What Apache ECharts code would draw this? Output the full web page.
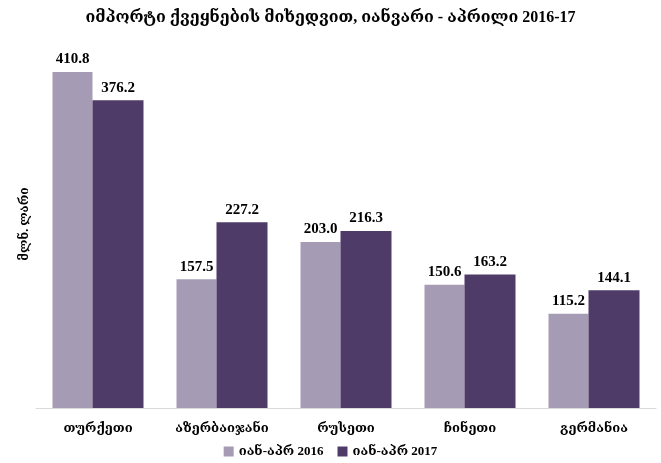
<!DOCTYPE html>
<html><head><meta charset="utf-8">
<script src="https://cdn.jsdelivr.net/npm/echarts@6/dist/echarts.min.js"></script>
<style>html,body{margin:0;padding:0;background:#fff}#c{width:661px;height:463px}</style>
</head><body><div id="c"></div>
<script>
const titleText = 'იმპორტი ქვეყნების მიხედვით, იანვარი - აპრილი 2016-17';
const yAxisName = 'მლნ. ლარი';
const categories = ['თურქეთი', 'აზერბაიჯანი', 'რუსეთი', 'ჩინეთი', 'გერმანია'];
const seriesNames = ['იან-აპრ 2016', 'იან-აპრ 2017'];
const values2016 = [410.8, 157.5, 203.0, 150.6, 115.2];
const values2017 = [376.2, 227.2, 216.3, 163.2, 144.1];
const colors = ['#A69BB4', '#4E3B68'];
const font = '"Liberation Serif", "DejaVu Serif", serif';

const chart = echarts.init(document.getElementById('c'), null, {renderer: 'canvas'});
const label = {show: true, position: 'top', distance: 5, fontFamily: font, fontWeight: 'bold', fontSize: 15, color: '#000', formatter: p => p.value.toFixed(1)};
chart.setOption({
  animation: false,
  title: {text: titleText, left: 'center', top: 5, textStyle: {fontFamily: font, fontWeight: 'bold', fontSize: 16, color: '#000'}},
  legend: {bottom: 0, left: 'center', itemWidth: 10, itemHeight: 10, itemGap: 14, icon: 'rect',
    textStyle: {fontFamily: font, fontWeight: 'bold', fontSize: 13, color: '#000'}},
  grid: {left: 36, right: 5, top: 40, bottom: 55, containLabel: false},
  xAxis: {type: 'category', data: categories, axisTick: {show: false},
    axisLine: {lineStyle: {color: '#D9D9D9', width: 1}},
    axisLabel: {fontFamily: font, fontWeight: 'bold', fontSize: 13, color: '#000', margin: 14}},
  yAxis: {type: 'value', min: 0, max: 450, show: true, name: yAxisName, nameLocation: 'middle', nameGap: 5, nameRotate: 90,
    nameTextStyle: {fontFamily: font, fontWeight: 'bold', fontSize: 12, color: '#000'},
    axisLine: {show: false}, axisTick: {show: false}, axisLabel: {show: false}, splitLine: {show: false}},
  series: [
    {name: seriesNames[0], type: 'bar', data: values2016, barWidth: 40, barGap: '0%', itemStyle: {color: colors[0]}, label},
    {name: seriesNames[1], type: 'bar', data: values2017, barWidth: 51, barGap: '0%', itemStyle: {color: colors[1]}, label}
  ]
});
</script></body></html>
